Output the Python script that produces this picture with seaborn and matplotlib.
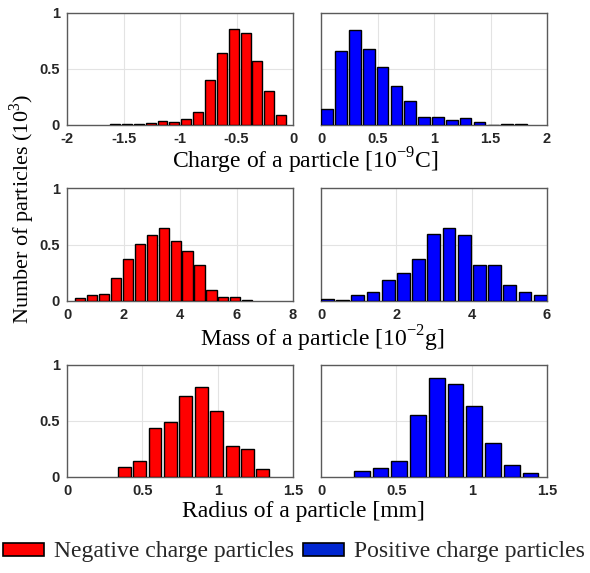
import numpy as np
import matplotlib
matplotlib.use("Agg")
import matplotlib.pyplot as plt
from matplotlib.patches import Patch
import seaborn as sns

# ---- data (counts in 10^3) ----
charge_neg_x = [-1.575, -1.470, -1.365, -1.260, -1.155, -1.050, -0.945, -0.840,
                -0.735, -0.630, -0.525, -0.420, -0.315, -0.210, -0.105]
charge_neg_y = [0.008, 0.008, 0.008, 0.018, 0.036, 0.027, 0.053, 0.12,
                0.40, 0.64, 0.855, 0.82, 0.57, 0.30, 0.089]
charge_pos_x = [0.055, 0.178, 0.300, 0.423, 0.545, 0.668, 0.790, 0.913,
                1.035, 1.158, 1.280, 1.403, 1.525, 1.648, 1.770]
charge_pos_y = [0.145, 0.665, 0.85, 0.675, 0.52, 0.35, 0.216, 0.074,
                0.074, 0.047, 0.059, 0.024, 0.0, 0.01, 0.01]

mass_neg_x = [0.45, 0.874, 1.298, 1.722, 2.146, 2.570, 2.994, 3.418,
              3.842, 4.266, 4.690, 5.114, 5.538, 5.962, 6.386]
mass_neg_y = [0.024, 0.053, 0.062, 0.20, 0.37, 0.505, 0.58, 0.65,
              0.53, 0.44, 0.32, 0.10, 0.036, 0.036, 0.009]
mass_pos_x = [0.17, 0.574, 0.977, 1.381, 1.784, 2.188, 2.591, 2.995,
              3.398, 3.802, 4.205, 4.609, 5.012, 5.416, 5.82]
mass_pos_y = [0.018, 0.009, 0.053, 0.08, 0.19, 0.245, 0.375, 0.59,
              0.645, 0.58, 0.315, 0.32, 0.14, 0.077, 0.053]

radius_neg_x = [0.38, 0.482, 0.584, 0.687, 0.789, 0.891, 0.993, 1.096, 1.198, 1.30]
radius_neg_y = [0.086, 0.142, 0.436, 0.49, 0.727, 0.807, 0.588, 0.273, 0.246, 0.071]
radius_pos_x = [0.27, 0.394, 0.519, 0.643, 0.768, 0.892, 1.017, 1.141, 1.266, 1.39]
radius_pos_y = [0.056, 0.083, 0.142, 0.555, 0.884, 0.828, 0.63, 0.30, 0.107, 0.036]

yticks = [0, 0.5, 1]
ytick_labels = ["0", "0.5", "1"]
charge_neg_ticks = [-2, -1.5, -1, -0.5, 0]
charge_neg_labels = ["-2", "-1.5", "-1", "-0.5", "0"]
charge_pos_ticks = [0, 0.5, 1, 1.5, 2]
charge_pos_labels = ["0", "0.5", "1", "1.5", "2"]
mass_neg_ticks = [0, 2, 4, 6, 8]
mass_neg_labels = ["0", "2", "4", "6", "8"]
mass_pos_ticks = [0, 2, 4, 6]
mass_pos_labels = ["0", "2", "4", "6"]
radius_ticks = [0, 0.5, 1, 1.5]
radius_labels = ["0", "0.5", "1", "1.5"]

xlabels = ["Charge of a particle [10$^{\\mathregular{-9}}$C]",
           "Mass of a particle [10$^{\\mathregular{-2}}$g]",
           "Radius of a particle [mm]"]
ylabel = "Number of particles (10$^{\\mathregular{3}}$)"
legend_labels = ["Negative charge particles", "Positive charge particles"]

sns.set_style("whitegrid")
plt.rcParams["font.family"] = ["Liberation Sans", "DejaVu Sans"]
plt.rcParams["mathtext.fontset"] = "custom"
plt.rcParams["mathtext.rm"] = "Liberation Serif"

W, H = 590, 573
fig = plt.figure(figsize=(W / 100, H / 100), dpi=100)

def ax_at(x0, y0, x1, y1):
    return fig.add_axes([x0 / W, 1 - y1 / H, (x1 - x0) / W, (y1 - y0) / H])

rows = [(13, 125), (188, 301), (365, 477)]
cols = [(67, 293), (321, 547)]

panels = [
    (charge_neg_x, charge_neg_y, "red", (-2, 0), charge_neg_ticks, charge_neg_labels),
    (charge_pos_x, charge_pos_y, "blue", (0, 2), charge_pos_ticks, charge_pos_labels),
    (mass_neg_x, mass_neg_y, "red", (0, 8), mass_neg_ticks, mass_neg_labels),
    (mass_pos_x, mass_pos_y, "blue", (0, 6), mass_pos_ticks, mass_pos_labels),
    (radius_neg_x, radius_neg_y, "red", (0, 1.5), radius_ticks, radius_labels),
    (radius_pos_x, radius_pos_y, "blue", (0, 1.5), radius_ticks, radius_labels),
]

for i, (xs, ys, col, xlim, xt, xtl) in enumerate(panels):
    r, c = divmod(i, 2)
    ax = ax_at(cols[c][0], rows[r][0], cols[c][1], rows[r][1])
    sns.barplot(x=xs, y=ys, native_scale=True, width=0.84, color=col,
                saturation=1, edgecolor="black", linewidth=1.0, ax=ax, zorder=3)
    for p in ax.patches:
        p.set_facecolor(col)
    ax.set_xlim(*xlim)
    ax.set_ylim(0, 1)
    ax.set_xticks(xt)
    ax.set_xticklabels(xtl)
    ax.set_yticks(yticks)
    if c == 0:
        ax.set_yticklabels(ytick_labels)
    else:
        ax.set_yticklabels([])
    ax.grid(True, color="#e3e3e3", linewidth=0.8, zorder=0)
    ax.set_axisbelow(True)
    for s in ax.spines.values():
        s.set_visible(True)
        s.set_color("#5a5a5a")
        s.set_linewidth(1.0)
    ax.tick_params(length=0, labelsize=10.5, colors="#262626")
    ax.tick_params(axis="x", pad=5)
    ax.tick_params(axis="y", pad=5)
    for t in ax.get_xticklabels() + ax.get_yticklabels():
        t.set_fontweight("bold")
    ax.set_xlabel("")
    ax.set_ylabel("")

serif = ["Liberation Serif", "DejaVu Serif"]
label_pos = [(305, 168), (322, 346), (303, 517)]
for txt, (xx, yy) in zip(xlabels, label_pos):
    fig.text(xx / W, 1 - yy / H, txt, ha="center", va="baseline",
             fontsize=17, family=serif, color="black")
fig.text(22 / W, 1 - 209 / H, ylabel, ha="center", va="center", rotation=90,
         fontsize=16, family=serif, color="black")

handles = [Patch(facecolor="red", edgecolor="black", linewidth=1.2),
           Patch(facecolor="#0026d0", edgecolor="black", linewidth=1.2)]
fig.legend(handles, legend_labels, loc="center", bbox_to_anchor=(294 / W, 1 - 552 / H),
           ncol=2, frameon=False, prop={"family": serif, "size": 17},
           handlelength=1.74, handleheight=0.47, handletextpad=0.42, columnspacing=0.38,
           borderaxespad=0, borderpad=0)

fig.savefig("out.png", dpi=100)
